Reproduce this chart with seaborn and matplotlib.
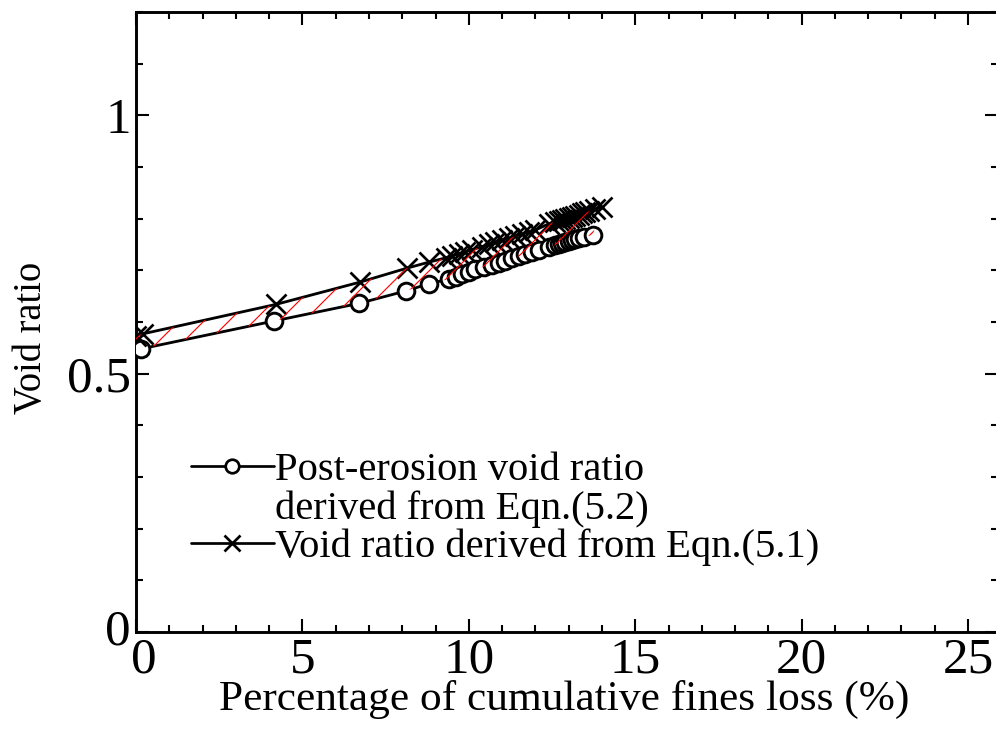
import numpy as np
import pandas as pd
import matplotlib
matplotlib.use("Agg")
import matplotlib.pyplot as plt
import matplotlib.transforms as mtransforms
import seaborn as sns
from matplotlib.lines import Line2D
from matplotlib.ticker import MultipleLocator, FuncFormatter

# ---------------- data ----------------
fines_loss_post = [0.0, 0.15, 4.15, 6.7, 8.1, 8.8, 9.4, 9.6, 9.8, 10.0, 10.2, 10.45,
                   10.7, 10.9, 11.1, 11.3, 11.5, 11.7, 11.9, 12.1, 12.4, 12.6, 12.7,
                   12.8, 12.9, 13.0, 13.1, 13.2, 13.3, 13.45, 13.72]
void_ratio_post = [0.552, 0.548, 0.602, 0.636, 0.660, 0.674, 0.683, 0.688, 0.692,
                   0.697, 0.702, 0.707, 0.711, 0.715, 0.719, 0.723, 0.727, 0.731,
                   0.735, 0.739, 0.745, 0.749, 0.751, 0.753, 0.755, 0.757, 0.759,
                   0.761, 0.763, 0.765, 0.768]

fines_loss_eq51 = [0.0, 0.2, 4.2, 6.72, 8.13, 8.81, 9.3, 9.5, 9.7, 9.9, 10.1, 10.4,
                   10.6, 10.8, 11.0, 11.2, 11.4, 11.6, 11.8, 12.0, 12.4, 12.6, 12.7,
                   12.8, 12.9, 13.0, 13.1, 13.2, 13.3, 13.4, 13.5, 13.6, 13.8, 14.0]
void_ratio_eq51 = [0.573, 0.577, 0.634, 0.677, 0.704, 0.716, 0.724, 0.728, 0.732,
                   0.736, 0.740, 0.746, 0.750, 0.754, 0.758, 0.762, 0.766, 0.770,
                   0.774, 0.778, 0.790, 0.794, 0.796, 0.798, 0.800, 0.802, 0.804,
                   0.806, 0.808, 0.810, 0.812, 0.814, 0.818, 0.822]

label_post = "Post-erosion void ratio"
label_post2 = "derived from Eqn.(5.2)"
label_eq51 = "Void ratio derived from Eqn.(5.1)"
x_label = "Percentage of cumulative fines loss (%)"
y_label = "Void ratio"
x_ticks = [0, 5, 10, 15, 20, 25]
y_ticks = [0, 0.5, 1]

# ---------------- style ----------------
sns.set_theme(style="ticks")
plt.rcParams["font.family"] = ["Liberation Serif", "DejaVu Serif"]
plt.rcParams["text.color"] = "black"
plt.rcParams["axes.labelcolor"] = "black"
plt.rcParams["hatch.color"] = "red"
plt.rcParams["hatch.linewidth"] = 0.55

DPI = 150
fig = plt.figure(figsize=(996 / DPI, 738 / DPI), dpi=DPI)
ax = fig.add_axes([136 / 996, (738 - 632) / 738, (998 - 136) / 996, (632 - 12) / 738])

df_post = pd.DataFrame({"x": fines_loss_post, "y": void_ratio_post})
df_eq51 = pd.DataFrame({"x": fines_loss_eq51, "y": void_ratio_eq51})

sns.lineplot(data=df_post, x="x", y="y", ax=ax, sort=False, estimator=None,
             color="black", linewidth=1.35, marker="o", markersize=8,
             markerfacecolor="white", markeredgecolor="black", markeredgewidth=1.4,
             zorder=3)
sns.lineplot(data=df_eq51, x="x", y="y", ax=ax, sort=False, estimator=None,
             color="black", linewidth=1.35, marker="x", markersize=9.5,
             markeredgecolor="black", markeredgewidth=1.3, zorder=3)

# hatched region between both curves
poly_x = np.concatenate([fines_loss_eq51, fines_loss_post[::-1]])
poly_y = np.concatenate([void_ratio_eq51, void_ratio_post[::-1]])
ax.fill(poly_x, poly_y, facecolor="none", edgecolor="red", hatch="//",
        linewidth=0, zorder=4)

ax.set_xlim(0, 25.9)
ax.set_ylim(0, 1.2)
ax.xaxis.set_minor_locator(MultipleLocator(1))
ax.yaxis.set_minor_locator(MultipleLocator(0.1))
ax.set_xticks(x_ticks)
ax.set_yticks(y_ticks)
ax.yaxis.set_major_formatter(FuncFormatter(lambda v, p: f"{v:g}"))

ax.tick_params(which="both", direction="in", top=True, right=True,
               labelsize=24.5, width=1.0, colors="black", pad=2.5)
ax.tick_params(which="major", length=6.2)
ax.tick_params(which="minor", length=3.4)
for s in ax.spines.values():
    s.set_linewidth(1.4)
    s.set_color("black")

# nudge the two corner "0" labels apart, as in the reference
fig.canvas.draw()
xlab0 = ax.get_xticklabels()[0]
xlab0.set_transform(xlab0.get_transform() +
                    mtransforms.ScaledTranslation(8 / DPI, 0, fig.dpi_scale_trans))
ylab0 = ax.get_yticklabels()[0]
ylab0.set_transform(ylab0.get_transform() +
                    mtransforms.ScaledTranslation(0, 5 / DPI, fig.dpi_scale_trans))

ax.set_xlabel(x_label, fontsize=20.8, color="black")
ax.set_ylabel(y_label, fontsize=18.5, color="black")
ax.xaxis.set_label_coords(0.497, -0.078)
ax.yaxis.set_label_coords(-0.10, 0.475)

handles = [
    Line2D([], [], color="black", linewidth=1.3, marker="o", markersize=6.5,
           markerfacecolor="white", markeredgecolor="black", markeredgewidth=1.3),
    Line2D([], [], color="none"),
    Line2D([], [], color="black", linewidth=1.3, marker="x", markersize=7.5,
           markeredgecolor="black", markeredgewidth=1.3),
]
leg = ax.legend(handles, [label_post, label_post2, label_eq51],
                loc="upper left", bbox_to_anchor=(0.04, 0.323),
                frameon=False, fontsize=19.5, handlelength=2.05,
                handletextpad=0.02, labelspacing=0.02, borderpad=0,
                labelcolor="black")

fig.savefig("out.png", dpi=DPI)
